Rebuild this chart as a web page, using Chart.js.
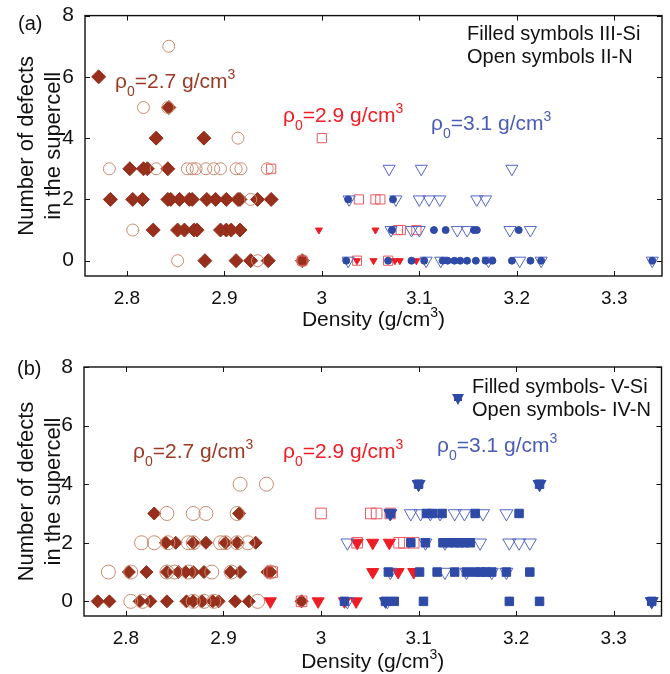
<!DOCTYPE html>
<html>
<head>
<meta charset="utf-8">
<script src="https://cdn.jsdelivr.net/npm/chart.js@4.4.1/dist/chart.umd.min.js"></script>
<style>
  body { margin: 0; background: #fff; }
  .panel { position: absolute; left: 0; width: 670px; }
  #panelA { top: 0; height: 330px; }
  #panelB { top: 330px; height: 344px; }
</style>
</head>
<body>
<div class="panel" id="panelA"><canvas id="chartA"></canvas></div>
<div class="panel" id="panelB"><canvas id="chartB"></canvas></div>
<script>
// axis ticks
const xTickVals = [2.8, 2.9, 3, 3.1, 3.2, 3.3];
const yTickVals = [0, 2, 4, 6, 8];

// (a) III-Si (filled) / II-N (open), points are [density, defects]
const aDiamond27 = [
  [2.771, 6], [2.843, 5], [2.830, 4], [2.879, 4],
  [2.803, 3], [2.817, 3], [2.821, 3], [2.842, 3],
  [2.783, 2], [2.806, 2], [2.816, 2], [2.842, 2], [2.845, 2], [2.854, 2], [2.864, 2], [2.867, 2],
  [2.882, 2], [2.891, 2], [2.902, 2], [2.914, 2], [2.916, 2], [2.934, 2], [2.948, 2],
  [2.827, 1], [2.852, 1], [2.859, 1], [2.869, 1], [2.872, 1], [2.896, 1], [2.902, 1], [2.907, 1], [2.916, 1],
  [2.880, 0], [2.912, 0], [2.927, 0], [2.945, 0], [2.980, 0]
];
const aCircle27 = [
  [2.843, 7], [2.817, 5], [2.842, 5], [2.914, 4],
  [2.782, 3], [2.830, 3], [2.862, 3], [2.867, 3], [2.871, 3], [2.881, 3], [2.889, 3], [2.896, 3],
  [2.912, 3], [2.917, 3], [2.944, 3],
  [2.927, 2], [2.806, 1],
  [2.852, 0], [2.934, 0], [2.980, 0]
];
const aTri29 = [
  [2.997, 1], [3.055, 1],
  [3.036, 0], [3.053, 0], [3.075, 0], [3.080, 0], [3.097, 0]
];
const aSquare29 = [
  [3.000, 4], [2.948, 3],
  [3.038, 2], [3.055, 2], [3.060, 2],
  [3.078, 1], [3.081, 1], [3.097, 1],
  [2.980, 0], [3.036, 0], [3.068, 0]
];
const aDot31 = [
  [3.027, 2], [3.073, 2],
  [3.072, 1], [3.115, 1], [3.127, 1], [3.156, 1], [3.159, 1], [3.202, 1],
  [3.025, 0], [3.068, 0], [3.092, 0], [3.105, 0], [3.124, 0], [3.129, 0], [3.136, 0], [3.142, 0],
  [3.149, 0], [3.158, 0], [3.168, 0], [3.175, 0], [3.195, 0], [3.214, 0], [3.225, 0], [3.339, 0]
];
const aTri31 = [
  [3.069, 3], [3.102, 3], [3.195, 3],
  [3.028, 2], [3.076, 2], [3.100, 2], [3.110, 2], [3.121, 2], [3.159, 2], [3.168, 2],
  [3.071, 1], [3.092, 1], [3.100, 1], [3.139, 1], [3.149, 1], [3.193, 1], [3.214, 1],
  [3.027, 0], [3.107, 0], [3.122, 0], [3.171, 0], [3.203, 0], [3.225, 0], [3.339, 0]
];

// (b) V-Si (filled) / IV-N (open)
const bDiamond27 = [
  [2.829, 3], [2.916, 3],
  [2.841, 2], [2.851, 2], [2.869, 2], [2.882, 2], [2.902, 2], [2.914, 2], [2.933, 2],
  [2.803, 1], [2.821, 1], [2.842, 1], [2.854, 1], [2.861, 1], [2.869, 1], [2.880, 1], [2.907, 1],
  [2.917, 1], [2.945, 1], [2.948, 1],
  [2.771, 0], [2.783, 0], [2.814, 0], [2.825, 0], [2.842, 0], [2.862, 0], [2.869, 0], [2.878, 0],
  [2.889, 0], [2.895, 0], [2.912, 0], [2.926, 0], [2.980, 0]
];
const bCircle27 = [
  [2.917, 4], [2.944, 4],
  [2.842, 3], [2.869, 3], [2.882, 3], [2.914, 3],
  [2.816, 2], [2.829, 2], [2.843, 2], [2.864, 2], [2.869, 2], [2.897, 2], [2.902, 2], [2.914, 2], [2.925, 2],
  [2.782, 1], [2.805, 1], [2.842, 1], [2.850, 1], [2.864, 1], [2.888, 1], [2.908, 1], [2.948, 1],
  [2.805, 0], [2.817, 0], [2.869, 0], [2.880, 0], [2.890, 0], [2.935, 0]
];
const bTri29 = [
  [3.071, 3],
  [3.037, 2], [3.053, 2], [3.070, 2],
  [3.053, 1], [3.079, 1], [3.095, 1],
  [2.948, 0], [2.997, 0], [3.024, 0], [3.036, 0]
];
const bSquare29 = [
  [3.000, 3], [3.051, 3], [3.057, 3], [3.071, 3],
  [3.037, 2], [3.080, 2], [3.085, 2], [3.095, 2],
  [2.950, 1],
  [2.980, 0]
];
const bSquare31 = [
  [3.100, 4], [3.224, 4],
  [3.071, 3], [3.108, 3], [3.114, 3], [3.124, 3], [3.158, 3], [3.203, 3],
  [3.092, 2], [3.107, 2], [3.125, 2], [3.131, 2], [3.137, 2], [3.142, 2], [3.147, 2], [3.153, 2],
  [3.069, 1], [3.101, 1], [3.119, 1], [3.137, 1], [3.149, 1], [3.158, 1], [3.164, 1], [3.169, 1],
  [3.175, 1], [3.190, 1], [3.214, 1],
  [3.024, 0], [3.066, 0], [3.075, 0], [3.105, 0], [3.193, 0], [3.224, 0], [3.339, 0]
];
const bTriFill31 = [[3.100, 4], [3.224, 4], [3.071, 3], [3.066, 0], [3.339, 0]];
const bTri31 = [
  [3.100, 4], [3.224, 4],
  [3.071, 3], [3.092, 3], [3.102, 3], [3.112, 3], [3.122, 3], [3.137, 3], [3.147, 3], [3.166, 3], [3.190, 3],
  [3.027, 2], [3.107, 2], [3.127, 2], [3.163, 2], [3.193, 2], [3.203, 2], [3.214, 2],
  [3.071, 1], [3.127, 1], [3.149, 1], [3.175, 1], [3.190, 1],
  [3.027, 0], [3.068, 0], [3.339, 0]
];

const FONT = '"Liberation Sans", Arial, sans-serif';
const BROWN = '#962f1c', BROWN_OPEN = '#c98a6e', BROWN_TXT = '#9a3a24';
const RED = '#ee1c24', RED_OPEN = '#ea5a63';
const BLUE = '#2e4aa6', BLUE_OPEN = '#5566c4', BLUE_TXT = '#4b5cb5';

const pts = arr => arr.map(p => ({ x: p[0], y: p[1] }));

function filled(data, style, r, color, extra) {
  return Object.assign({ data: pts(data), pointStyle: style, pointRadius: r,
    backgroundColor: color, borderColor: color, borderWidth: 1 }, extra || {});
}
function open(data, style, r, color, extra) {
  return Object.assign({ data: pts(data), pointStyle: style, pointRadius: r,
    backgroundColor: 'rgba(0,0,0,0)', borderColor: color, borderWidth: 1 }, extra || {});
}

// text with sub/superscripts: parts are [text, 'n' | 'sub' | 'sup']
function drawRich(ctx, parts, x, y, size) {
  ctx.textBaseline = 'alphabetic';
  ctx.textAlign = 'left';
  parts.forEach(([txt, kind]) => {
    const small = kind !== 'n';
    ctx.font = (small ? Math.round(size * 0.68) : size) + 'px ' + FONT;
    const dy = kind === 'sub' ? size * 0.38 : kind === 'sup' ? -size * 0.45 : 0;
    ctx.fillText(txt, x, y + dy);
    x += ctx.measureText(txt).width;
  });
  return x;
}

function rho(val) {
  return [['ρ', 'n'], ['0', 'sub'], ['=' + val + ' g/cm', 'n'], ['3', 'sup']];
}

// box with inward ticks on all four sides
const boxTicks = {
  id: 'boxTicks',
  afterDatasetsDraw(chart) {
    const { ctx, chartArea: a, scales: { x, y } } = chart;
    ctx.save();
    ctx.strokeStyle = '#111';
    ctx.lineWidth = 1.4;
    ctx.strokeRect(a.left, a.top, a.width, a.height);
    ctx.lineWidth = 1;
    ctx.beginPath();
    x.ticks.forEach(t => {
      const px = Math.round(x.getPixelForValue(t.value)) + 0.5;
      ctx.moveTo(px, a.bottom); ctx.lineTo(px, a.bottom - 5);
      ctx.moveTo(px, a.top); ctx.lineTo(px, a.top + 5);
    });
    y.ticks.forEach(t => {
      const py = Math.round(y.getPixelForValue(t.value)) + 0.5;
      ctx.moveTo(a.left, py); ctx.lineTo(a.left + 5, py);
      ctx.moveTo(a.right, py); ctx.lineTo(a.right - 5, py);
    });
    ctx.stroke();
    ctx.restore();
  }
};

// panel label, density notes, symbol key and x title
const panelText = {
  id: 'panelText',
  afterDraw(chart, args, opts) {
    const { ctx, chartArea: a } = chart;
    ctx.save();
    ctx.fillStyle = '#111';
    ctx.font = '20px ' + FONT;
    ctx.textBaseline = 'middle';
    ctx.fillText(opts.label, opts.labelPos[0], opts.labelPos[1]);
    opts.notes.forEach(n => {
      ctx.fillStyle = n.color;
      drawRich(ctx, n.parts, n.x, n.y, 21);
    });
    ctx.fillStyle = '#111';
    ctx.font = '20px ' + FONT;
    ctx.textBaseline = 'alphabetic';
    opts.keyLines.forEach(k => ctx.fillText(k.text, k.x, k.y));
    if (opts.keyMark) {
      const [mx, my] = opts.keyMark;
      ctx.fillStyle = BLUE;
      ctx.beginPath();
      ctx.moveTo(mx - 6, my - 4); ctx.lineTo(mx + 6, my - 4); ctx.lineTo(mx, my + 7);
      ctx.closePath(); ctx.fill();
      ctx.fillRect(mx - 4, my - 4, 8, 7);
    }
    // x title, centred under the plot
    ctx.fillStyle = '#111';
    const title = [['Density (g/cm', 'n'], ['3', 'sup'], [')', 'n']];
    ctx.font = '21px ' + FONT;
    let w = ctx.measureText('Density (g/cm)').width;
    ctx.font = '14px ' + FONT;
    w += ctx.measureText('3').width;
    drawRich(ctx, title, (a.left + a.right) / 2 - w / 2, opts.titleY, 21);
    ctx.restore();
  }
};

function makeChart(id, datasets, lay, text) {
  return new Chart(document.getElementById(id), {
    type: 'scatter',
    data: { datasets },
    options: {
      responsive: true,
      maintainAspectRatio: false,
      animation: false,
      events: [],
      layout: { padding: { top: lay.top, right: lay.right, left: 0, bottom: 0 } },
      plugins: { legend: { display: false }, tooltip: { enabled: false }, panelText: text },
      scales: {
        x: {
          type: 'linear', min: 2.757, max: 3.349,
          afterBuildTicks: s => { s.ticks = xTickVals.map(v => ({ value: v })); },
          afterFit: s => { s.height = lay.xH; },
          grid: { display: false },
          border: { display: false },
          ticks: { color: '#111', padding: 3, font: { family: FONT, size: 19 },
                   maxRotation: 0, callback: v => String(v) }
        },
        y: {
          type: 'linear', min: -0.5, max: 8,
          afterBuildTicks: s => { s.ticks = yTickVals.map(v => ({ value: v })); },
          afterFit: s => { s.width = lay.yW; },
          grid: { display: false },
          border: { display: false },
          ticks: { color: '#111', padding: 3, font: { family: FONT, size: 21 } },
          title: { display: true, text: ['Number of defects', 'in the supercell'], color: '#111',
                   font: { family: FONT, size: 22, lineHeight: 1.22 }, padding: { top: 14, bottom: 0 } }
        }
      }
    },
    plugins: [boxTicks, panelText]
  });
}

makeChart('chartA', [
  filled(aDot31, 'circle', 3.5, BLUE),
  open(aTri31, 'triangle', 7, BLUE_OPEN, { rotation: 180 }),
  filled(aTri29, 'triangle', 4, RED, { rotation: 180 }),
  open(aSquare29, 'rect', 6.5, RED_OPEN),
  open(aCircle27, 'circle', 6, BROWN_OPEN),
  filled(aDiamond27, 'rectRot', 7, BROWN)
], { top: 15, right: 7, yW: 85, xH: 54 }, {
  label: '(a)', labelPos: [18, 24], titleY: 326,
  notes: [
    { parts: rho('2.7'), x: 115, y: 88, color: BROWN_TXT },
    { parts: rho('2.9'), x: 283, y: 122, color: RED },
    { parts: rho('3.1'), x: 431, y: 130, color: BLUE_TXT }
  ],
  keyLines: [
    { text: 'Filled symbols III-Si', x: 467, y: 40 },
    { text: 'Open symbols II-N', x: 467, y: 63 }
  ],
  keyMark: null
});

makeChart('chartB', [
  filled(bTriFill31, 'triangle', 7, BLUE, { rotation: 180 }),
  filled(bSquare31, 'rect', 6, BLUE),
  open(bTri31, 'triangle', 7.5, BLUE_OPEN, { rotation: 180 }),
  filled(bTri29, 'triangle', 7, RED, { rotation: 180 }),
  open(bSquare29, 'rect', 7.5, RED_OPEN),
  open(bCircle27, 'circle', 7, BROWN_OPEN),
  filled(bDiamond27, 'rectRot', 6.5, BROWN)
], { top: 37, right: 6, yW: 84, xH: 58 }, {
  label: '(b)', labelPos: [17, 39], titleY: 338,
  notes: [
    { parts: rho('2.7'), x: 133, y: 128, color: BROWN_TXT },
    { parts: rho('2.9'), x: 283, y: 128, color: RED },
    { parts: rho('3.1'), x: 437, y: 122, color: BLUE_TXT }
  ],
  keyLines: [
    { text: 'Filled symbols- V-Si', x: 472, y: 63 },
    { text: 'Open symbols- IV-N', x: 472, y: 86 }
  ],
  keyMark: [458, 68]
});
</script>
</body>
</html>
